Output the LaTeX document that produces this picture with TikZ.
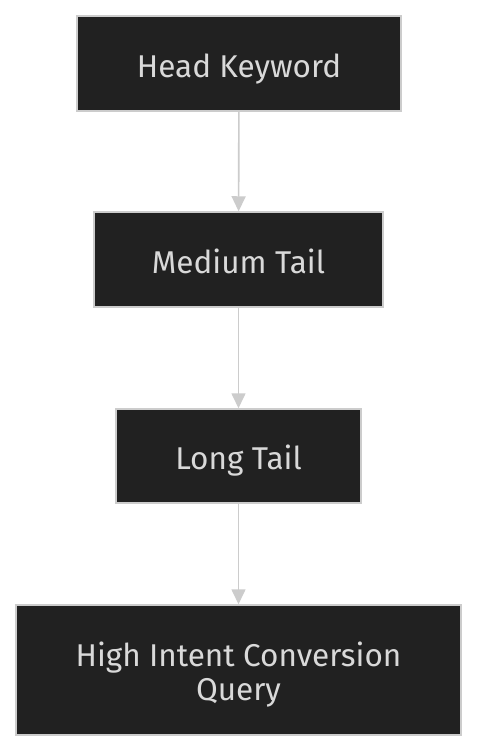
\documentclass[tikz,border=0pt]{standalone}
\usepackage{fontspec}
\setmainfont{Fira Sans}
\usetikzlibrary{arrows.meta}
\definecolor{boxfill}{HTML}{212121}
\definecolor{boxline}{HTML}{CCCCCC}
\definecolor{txt}{HTML}{D9D9D9}
\definecolor{edge}{HTML}{CCCCCC}
\begin{document}
\begin{tikzpicture}[x=1pt,y=-1pt,
  box/.style={draw=boxline,line width=1.5pt,fill=boxfill,text=txt,font=\fontsize{31.5}{33.3}\selectfont,align=center,inner sep=0pt},
  one/.style={text height=30pt,text depth=2.4pt},
  two/.style={text height=63.3pt,text depth=3.3pt},
  conn/.style={draw=edge,line width=1.6pt,-{Triangle[length=15pt,width=14pt]}}]
\path[use as bounding box,fill=white] (0,0) rectangle (478,753);
\node[box,one,minimum width=324pt,minimum height=95pt] (a) at (239,63.5) {Head Keyword};
\node[box,one,minimum width=289pt,minimum height=95pt] (b) at (238.5,259.5) {Medium Tail};
\node[box,one,minimum width=245pt,minimum height=94pt] (c) at (238.5,456) {Long Tail};
\node[box,two,minimum width=445pt,minimum height=130pt] (d) at (238.5,670) {High Intent Conversion\\Query};
\draw[conn] (a) -- (b);
\draw[conn] (b) -- (c);
\draw[conn] (c) -- (d);
\end{tikzpicture}
\end{document}
